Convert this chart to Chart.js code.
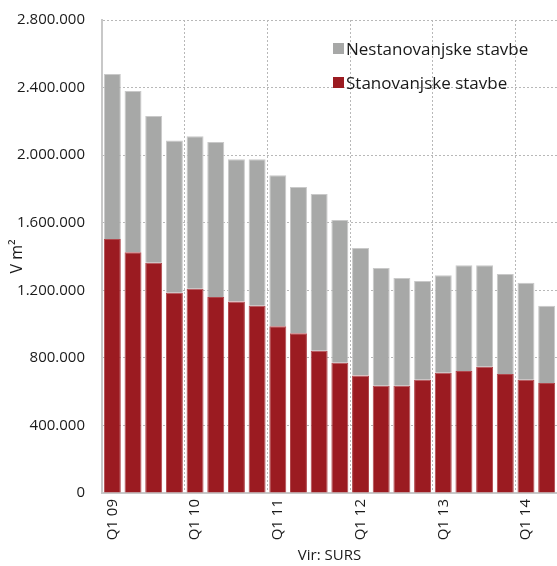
<!DOCTYPE html>
<html>
<head>
<meta charset="utf-8">
<script src="https://cdn.jsdelivr.net/npm/chart.js@4.4.1/dist/chart.umd.min.js"></script>
<style>
  html, body { margin: 0; padding: 0; background: #fff; }
  #wrap { position: relative; width: 557px; height: 566px; }
  #legend { position: absolute; left: 333px; top: 37px; font-family: "Open Sans", sans-serif; font-size: 17px; color: #1a1a1a; }
  #legend .item { display: flex; align-items: center; height: 22px; margin-bottom: 12px; white-space: nowrap; }
  #legend .box { width: 11px; height: 11px; margin-right: 2px; }
</style>
</head>
<body>
<div id="wrap">
  <canvas id="c" width="557" height="566"></canvas>
  <div id="legend"></div>
</div>
<script>
const categories = ["Q1 09","Q2 09","Q3 09","Q4 09","Q1 10","Q2 10","Q3 10","Q4 10","Q1 11","Q2 11","Q3 11","Q4 11","Q1 12","Q2 12","Q3 12","Q4 12","Q1 13","Q2 13","Q3 13","Q4 13","Q1 14","Q2 14"];
const stanovanjske = [1504000,1425000,1363000,1186000,1209000,1160000,1133000,1109000,987000,945000,842000,771000,695000,635000,635000,671000,712000,722000,748000,705000,671000,651000];
const nestanovanjske = [976000,955000,869000,900000,903000,918000,842000,866000,894000,866000,928000,845000,755000,697000,638000,584000,577000,626000,600000,591000,574000,458000];
const seriesNames = ["Stanovanjske stavbe","Nestanovanjske stavbe"];
const seriesColors = ["#9b1b21","#a7a8a7"];
const yTicks = [0,400000,800000,1200000,1600000,2000000,2400000,2800000];
const yTitle = "V m²";
const xTitle = "Vir: SURS";

const font = "'Open Sans', sans-serif";
const fmt = v => String(v).replace(/\B(?=(\d{3})+(?!\d))/g, ".");

new Chart(document.getElementById("c"), {
  type: "bar",
  data: {
    labels: categories,
    datasets: [
      { label: seriesNames[0], data: stanovanjske, backgroundColor: seriesColors[0], borderColor: "#b0474c", borderWidth: 1, barPercentage: 0.82, categoryPercentage: 1 },
      { label: seriesNames[1], data: nestanovanjske, backgroundColor: seriesColors[1], borderColor: "#c9c9c9", borderWidth: 1, barPercentage: 0.82, categoryPercentage: 1 }
    ]
  },
  options: {
    responsive: false,
    animation: false,
    layout: { padding: { top: 20, right: 0, left: 0, bottom: 0 } },
    plugins: { legend: { display: false }, tooltip: { enabled: false } },
    scales: {
      x: {
        stacked: true,
        afterFit: s => { s.height = 73; s.paddingLeft = 0; s.paddingRight = 0; },
        grid: {
          offset: true,
          drawTicks: false,
          color: ctx => (ctx.index % 4 === 0 ? "#b8b8b8" : "rgba(0,0,0,0)"),
          lineWidth: 1
        },
        border: { color: "#c8c8c8", width: 2, dash: [2, 2] },
        ticks: {
          autoSkip: false,
          minRotation: 90, maxRotation: 90,
          padding: 6,
          color: "#1a1a1a",
          font: { family: font, size: 15 },
          callback: function(v, i) { return i % 4 === 0 ? categories[i] : ""; }
        },
        title: { display: true, text: xTitle, color: "#1a1a1a", font: { family: font, size: 15 }, padding: { top: 0, bottom: 1 } }
      },
      y: {
        stacked: true,
        min: 0, max: 2800000,
        afterFit: s => { s.width = 102; s.paddingTop = 0; s.paddingBottom = 0; },
        afterBuildTicks: s => { s.ticks = yTicks.map(v => ({ value: v })); },
        grid: { drawTicks: false, color: "#b8b8b8", lineWidth: 1 },
        border: { color: "#c8c8c8", width: 2, dash: [2, 2] },
        ticks: { padding: 17, color: "#1a1a1a", font: { family: font, size: 15 }, callback: v => fmt(v) },
        title: { display: true, text: yTitle, color: "#1a1a1a", font: { family: font, size: 16 }, padding: { top: 8, bottom: 0 } }
      }
    }
  }
});

const legend = document.getElementById("legend");
[1, 0].forEach(i => {
  const d = document.createElement("div");
  d.className = "item";
  d.innerHTML = '<span class="box" style="background:' + seriesColors[i] + '"></span><span></span>';
  d.lastChild.textContent = seriesNames[i];
  legend.appendChild(d);
});
</script>
</body>
</html>
